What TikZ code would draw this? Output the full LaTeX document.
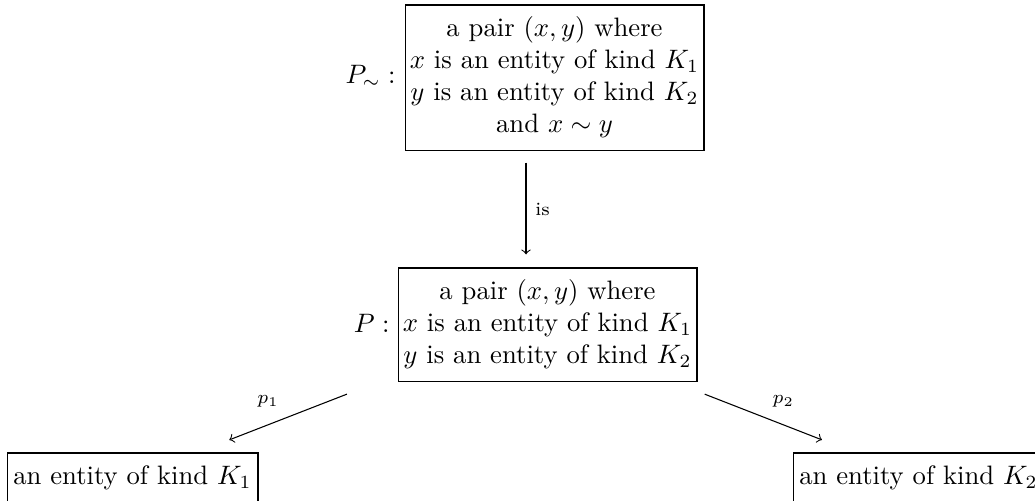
\documentclass[tikz,border=0pt]{standalone}
\begin{document}
\begin{tikzpicture}[x=0.375pt,y=-0.375pt,
  box/.style={draw, line width=0.4pt, inner sep=0pt, align=center, minimum width=112.1pt},
  lbl/.style={inner sep=0pt, anchor=base east},
  wrap/.style={inner sep=0pt, draw=none},
  arr/.style={->, line width=0.4pt},
  elabel/.style={font=\scriptsize}]
\useasboundingbox (0,0) rectangle (1035,500);
\clip (0,0) rectangle (1035,500);
% boxes
\node[box, minimum height=54.4pt] (topbox) at (554.5,77.5)
  {a pair $(x,y)$ where\\ $x$ is an entity of kind $K_1$\\ $y$ is an entity of kind $K_2$\\ and $x\sim y$};
\node[lbl] (toplbl) at (396,83) {$P_\sim :$};
\node[box, minimum height=42.4pt] (midbox) at (547.5,324.5)
  {a pair $(x,y)$ where\\ $x$ is an entity of kind $K_1$\\ $y$ is an entity of kind $K_2$};
\node[lbl] (midlbl) at (390,332) {$P :$};
\node[box, minimum width=94.1pt, minimum height=18.4pt] (k1) at (132.5,477.5) {an entity of kind $K_1$};
\node[box, minimum width=94.1pt, minimum height=18.4pt] (k2) at (918.5,477.5) {an entity of kind $K_2$};
% invisible cells (label + box)
\node[wrap, minimum width=133.5pt, minimum height=54.4pt] (topall) at (526,77.5) {};
\node[wrap, minimum width=128.25pt, minimum height=42.4pt] (midall) at (526,324.5) {};
% arrows
\draw[arr, shorten <=4.5pt, shorten >=4.9pt] (topall) -- (midall)
  node[midway, right, elabel] {is};
\draw[arr, shorten <=13pt, shorten >=13pt] (midall) -- (k1)
  node[midway, above left, elabel] {$p_1$};
\draw[arr, shorten <=13pt, shorten >=13pt] (midall) -- (k2)
  node[midway, above right, elabel] {$p_2$};
\end{tikzpicture}
\end{document}
